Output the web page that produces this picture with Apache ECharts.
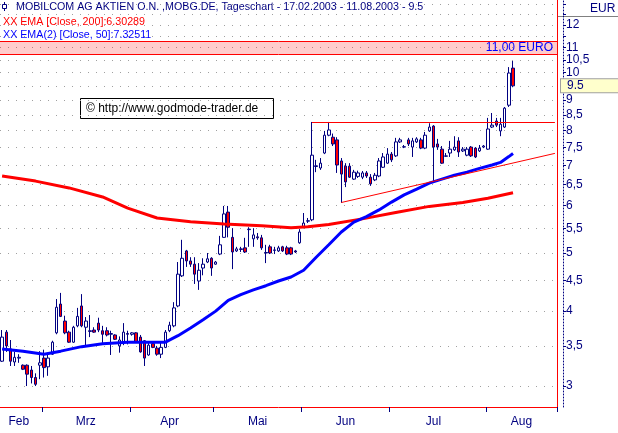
<!DOCTYPE html>
<html><head><meta charset="utf-8">
<script src="https://cdn.jsdelivr.net/npm/echarts@6/dist/echarts.min.js"></script>
<style>html,body{margin:0;padding:0;background:#fff;}#c{width:618px;height:433px;}</style>
</head><body><div id="c"></div>
<script>
// ---- data ----
const holidays = ['2003-04-18', '2003-04-21', '2003-05-01'];
function tradingDays(startStr, endStr) {
  const out = [];
  const d = new Date(startStr + 'T12:00:00Z');
  const end = new Date(endStr + 'T12:00:00Z');
  while (d <= end) {
    const wd = d.getUTCDay();
    const iso = d.toISOString().slice(0, 10);
    if (wd !== 0 && wd !== 6 && holidays.indexOf(iso) < 0) out.push(iso);
    d.setUTCDate(d.getUTCDate() + 1);
  }
  return out;
}
const dates = tradingDays('2003-02-17', '2003-08-11');
const padCount = 10;
const categories = dates.concat(Array.from({length: padCount}, (_, k) => '_' + k));

// [open, close, low, high]
const candles = [
  [3.30,3.62,3.29,3.72],[3.69,3.50,3.42,3.72],[3.46,3.30,3.24,3.58],[3.29,3.35,3.24,3.42],[3.34,3.35,3.28,3.39],
  [3.25,3.20,3.19,3.26],[3.25,3.14,3.00,3.26],[3.19,3.10,3.03,3.24],[3.10,3.02,3.00,3.15],[3.25,3.28,3.08,3.43],
  [3.34,3.22,3.10,3.45],[3.23,3.34,3.12,3.39],[3.39,3.55,3.38,3.57],[3.68,4.06,3.66,4.19],[4.11,3.92,3.91,4.29],
  [3.85,3.68,3.66,3.93],[3.69,3.55,3.54,3.71],[3.55,3.76,3.54,3.78],[3.78,3.92,3.76,4.05],[4.08,3.78,3.76,4.27],
  [3.76,3.85,3.51,3.91],[3.70,3.71,3.62,3.94],[3.72,3.69,3.68,3.76],[3.82,3.72,3.69,3.90],[3.71,3.66,3.54,3.78],
  [3.71,3.65,3.63,3.76],[3.66,3.67,3.38,3.71],[3.65,3.59,3.58,3.66],[3.50,3.58,3.41,3.63],[3.54,3.69,3.51,3.82],
  [3.67,3.66,3.52,3.71],[3.66,3.68,3.64,3.69],[3.68,3.55,3.54,3.69],[3.62,3.42,3.41,3.65],[3.57,3.34,3.24,3.58],
  [3.38,3.51,3.37,3.55],[3.53,3.48,3.47,3.54],[3.47,3.39,3.37,3.50],[3.39,3.48,3.34,3.55],[3.48,3.69,3.47,3.72],
  [3.71,3.79,3.69,3.84],[3.78,4.05,3.76,4.14],[4.08,4.61,4.06,4.83],[4.58,4.90,4.56,5.26],[5.04,4.85,4.74,5.06],
  [4.85,4.79,4.74,4.92],[4.79,4.61,4.44,4.92],[4.49,4.68,4.34,4.81],[4.72,4.79,4.59,4.90],[4.83,4.89,4.81,5.00],
  [4.90,4.72,4.58,4.92],[4.79,4.83,4.78,4.85],[4.98,5.16,4.96,5.34],[5.31,5.81,5.30,5.99],[5.85,5.52,5.31,5.99],
  [5.31,5.02,4.70,5.50],[5.04,5.08,5.02,5.12],[5.08,5.07,5.02,5.12],[5.10,5.02,5.00,5.30],[5.47,5.48,5.12,5.52],
  [5.28,5.36,5.12,5.50],[5.32,5.30,5.26,5.40],[5.30,5.10,5.06,5.36],[5.00,5.01,4.81,5.16],[5.12,5.00,4.98,5.16],
  [5.05,5.06,4.98,5.12],[5.04,5.10,5.02,5.14],[5.12,5.04,5.02,5.14],[5.10,4.98,4.96,5.14],[5.10,4.98,4.96,5.12],
  [5.04,5.02,5.00,5.06],[5.20,5.42,5.18,5.48],[5.52,5.61,5.50,5.83],[5.65,5.66,5.61,5.72],[5.68,7.28,5.65,8.27],
  [6.97,6.99,6.82,7.15],[6.93,7.06,6.88,7.20],[7.34,7.86,7.31,7.99],[7.86,8.02,7.83,8.27],[7.80,7.60,7.54,7.91],
  [7.72,7.01,6.80,7.80],[7.12,6.77,6.06,7.20],[6.98,6.57,6.44,7.06],[6.98,6.69,6.67,7.06],[6.64,6.82,6.62,6.88],
  [6.71,6.80,6.67,6.86],[6.69,6.80,6.64,6.85],[6.80,6.72,6.67,6.85],[6.69,6.52,6.47,6.77],[6.62,6.74,6.59,6.80],
  [6.72,7.12,6.69,7.20],[6.95,7.23,6.93,7.34],[7.06,7.31,7.04,7.48],[7.31,7.15,7.09,7.37],[7.26,7.66,7.23,7.78],
  [7.66,7.72,7.63,7.78],[7.51,7.52,7.48,7.57],[7.72,7.60,7.54,7.78],[7.51,7.69,7.23,7.78],[7.66,7.75,7.63,7.80],
  [7.72,7.48,7.45,7.78],[7.48,7.86,7.45,7.96],[7.99,8.11,7.96,8.23],[8.14,7.51,6.57,8.17],[7.60,7.51,7.43,7.75],
  [7.45,7.06,7.04,7.54],[7.25,7.26,7.23,7.34],[7.34,7.45,7.23,7.69],[7.43,7.51,7.40,7.83],[7.69,7.37,7.23,7.80],
  [7.40,7.45,7.37,7.51],[7.28,7.45,7.25,7.51],[7.51,7.26,7.23,7.54],[7.48,7.23,7.20,7.51],[7.40,7.48,7.37,7.57],
  [7.51,7.54,7.48,7.57],[7.45,8.05,7.43,8.40],[8.11,8.17,8.08,8.56],[8.30,8.17,8.11,8.40],[7.99,8.20,7.83,8.40],
  [8.11,8.72,8.08,8.76],[8.82,9.98,8.76,10.21],[10.17,9.50,9.45,10.45]
];

// EMA 200 (red) read at sampled candles: [candle index, value]
const ema200 = [[0,6.72],[8,6.59],[16,6.42],[24,6.20],[30,5.94],[37,5.72],[45,5.64],[53,5.59],[62,5.55],
  [69,5.51],[73,5.53],[78,5.58],[86,5.70],[94,5.84],[102,5.98],[110,6.07],[116,6.17],[122,6.30289]];
// EMA 50 (blue)
const ema50 = [[0,3.46],[5,3.43],[10,3.39],[14,3.43],[19,3.49],[24,3.53],[30,3.55],[36,3.55],[39,3.55],
  [42,3.64],[45,3.75],[48,3.87],[51,4.00],[54,4.17],[57,4.26],[60,4.34],[63,4.41],[66,4.49],[69,4.56],
  [72,4.68],[75,4.92],[78,5.16],[81,5.42],[84,5.63],[87,5.75],[90,5.90],[93,6.08],[96,6.25],[99,6.39],
  [102,6.54],[105,6.64],[108,6.74],[111,6.82],[114,6.92],[117,7.01],[119,7.08],[121,7.24],[122,7.32511]];

const yTickValues = [3,3.5,4,4.5,5,5.5,6,6.5,7,7.5,8,8.5,9,9.5,10,10.5,11,11.5,12,12.5,13];
const yLabelValues = [3,3.5,4,4.5,5,5.5,6,6.5,7,7.5,8,8.5,9,10,10.5,11,12];
const monthNames = ['Feb','Mrz','Apr','Mai','Jun','Jul','Aug'];
const monthLabelIndex = [4, 20, 40, 61, 82, 103, 124];
const resistance = 8.27;           // horizontal line from the late-May high
const triangleLine = [[81, 6.07], [132, 7.33]];
const alertBand = [10.74, 11.28];   // "11,00 EURO" zone
const lastPrice = 9.5;

// ---- chart ----
const FONT = '"Liberation Sans", Arial, sans-serif';
const NAVY = '#000080';
const RED_LINE = {color: '#ff0000', width: 1, type: 'solid'};
const chart = echarts.init(document.getElementById('c'), null, {renderer: 'canvas'});
const monthStart = categories.map((c, i) => i > 0 && i < dates.length && dates[i].slice(5, 7) !== dates[i - 1].slice(5, 7));
const labelMap = {};
monthLabelIndex.forEach((idx, k) => { labelMap[idx] = monthNames[k]; });

chart.setOption({
  animation: false,
  backgroundColor: '#ffffff',
  grid: {left: 0, right: 61, top: 0, bottom: 26, containLabel: false},
  xAxis: {
    type: 'category', data: categories, boundaryGap: true,
    axisLine: {show: true, lineStyle: {color: '#ff0000', width: 1}},
    axisTick: {show: true, interval: (i) => !!monthStart[i], length: 5, lineStyle: {color: NAVY}},
    axisLabel: {interval: (i) => labelMap[i] !== undefined, formatter: (v, i) => labelMap[i] || '',
      color: NAVY, fontSize: 12, fontFamily: FONT, margin: 9},
    splitLine: {show: false}
  },
  yAxis: [{
    type: 'log', logBase: 10, position: 'right', offset: 6, min: 2.768, max: 13.21,
    axisLine: {show: true, lineStyle: {color: NAVY, type: [1, 2], width: 1}},
    axisTick: {show: true, length: 3, customValues: yTickValues, lineStyle: {color: NAVY}},
    axisLabel: {customValues: yLabelValues, formatter: (v) => String(v).replace('.', ','),
      color: NAVY, fontSize: 12, fontFamily: FONT, margin: 3},
    splitLine: {show: true, lineStyle: {color: '#a0a0a0', type: [1, 7], width: 1}}
  }, {
    type: 'value', position: 'right', offset: 0, min: 0, max: 1,
    axisLine: {show: true, lineStyle: {color: '#ff0000', width: 1}},
    axisTick: {show: false}, axisLabel: {show: false}, splitLine: {show: false}
  }],
  series: [{
    type: 'candlestick', data: candles, barWidth: 3, yAxisIndex: 0,
    itemStyle: {color: '#ffffff', color0: '#ff0000', borderColor: NAVY, borderColor0: NAVY, borderColorDoji: NAVY, borderWidth: 1},
    markArea: {silent: true, itemStyle: {color: 'rgba(255,0,0,0.2)'},
      label: {show: true, position: 'insideRight', formatter: '11,00 EURO', color: '#0000ff', fontSize: 12, fontFamily: FONT, distance: 4},
      data: [[{yAxis: alertBand[0]}, {yAxis: alertBand[1]}]]},
    markLine: {silent: true, symbol: 'none', label: {show: false},
      data: [
        {yAxis: alertBand[0], lineStyle: RED_LINE},
        {yAxis: alertBand[1], lineStyle: RED_LINE},
        [{coord: [74, resistance], lineStyle: RED_LINE}, {coord: [categories.length - 1, resistance]}],
        [{coord: triangleLine[0], lineStyle: RED_LINE}, {coord: triangleLine[1]}],
        {yAxis: lastPrice, lineStyle: {color: 'rgba(0,0,0,0)', width: 0},
          label: {show: true, position: 'end', formatter: '9.5', color: NAVY, fontSize: 12, fontFamily: FONT,
            backgroundColor: '#ffffcc', borderColor: '#a0a0a0', borderWidth: 1, padding: [1, 38, 0, 6], distance: 4}}
      ]}
  }, {
    type: 'line', data: ema200, symbol: 'none', yAxisIndex: 0, z: 3,
    lineStyle: {color: '#ff0000', width: 3}
  }, {
    type: 'line', data: ema50, symbol: 'none', yAxisIndex: 0, z: 4,
    lineStyle: {color: '#0000ff', width: 3}
  }],
  graphic: [
    {type: 'line', shape: {x1: 4.5, y1: 2, x2: 4.5, y2: 11}, style: {stroke: NAVY, lineWidth: 1}},
    {type: 'rect', shape: {x: 2.5, y: 4.5, width: 4, height: 4}, style: {fill: '#fff', stroke: NAVY, lineWidth: 1}},
    {type: 'text', style: {x: 16, y: 7, text: 'MOBILCOM AG AKTIEN O.N. ,MOBG.DE, Tageschart - 17.02.2003 - 11.08.2003 - 9.5',
      fill: NAVY, font: '10.7px ' + FONT, textVerticalAlign: 'middle'}},
    {type: 'text', style: {x: 3, y: 22, text: 'XX EMA [Close, 200]:6.30289', fill: '#ff0000', font: '10.7px ' + FONT, textVerticalAlign: 'middle'}},
    {type: 'text', style: {x: 3, y: 35, text: 'XX EMA(2) [Close, 50]:7.32511', fill: '#0000ff', font: '10.7px ' + FONT, textVerticalAlign: 'middle'}},
    {type: 'text', style: {x: 590, y: 9, text: 'EUR', fill: NAVY, font: '12px ' + FONT, textVerticalAlign: 'middle'}},
    {type: 'line', shape: {x1: 557, y1: 16.5, x2: 618, y2: 16.5}, style: {stroke: '#808080', lineWidth: 1}},
    {type: 'rect', shape: {x: 80.5, y: 98.5, width: 193, height: 20}, style: {fill: '#ffffff', stroke: '#000000', lineWidth: 1}},
    {type: 'text', style: {x: 86, y: 109, text: '© http://www.godmode-trader.de', fill: '#000000', font: '12px ' + FONT, textVerticalAlign: 'middle'}}
  ]
});
</script></body></html>
